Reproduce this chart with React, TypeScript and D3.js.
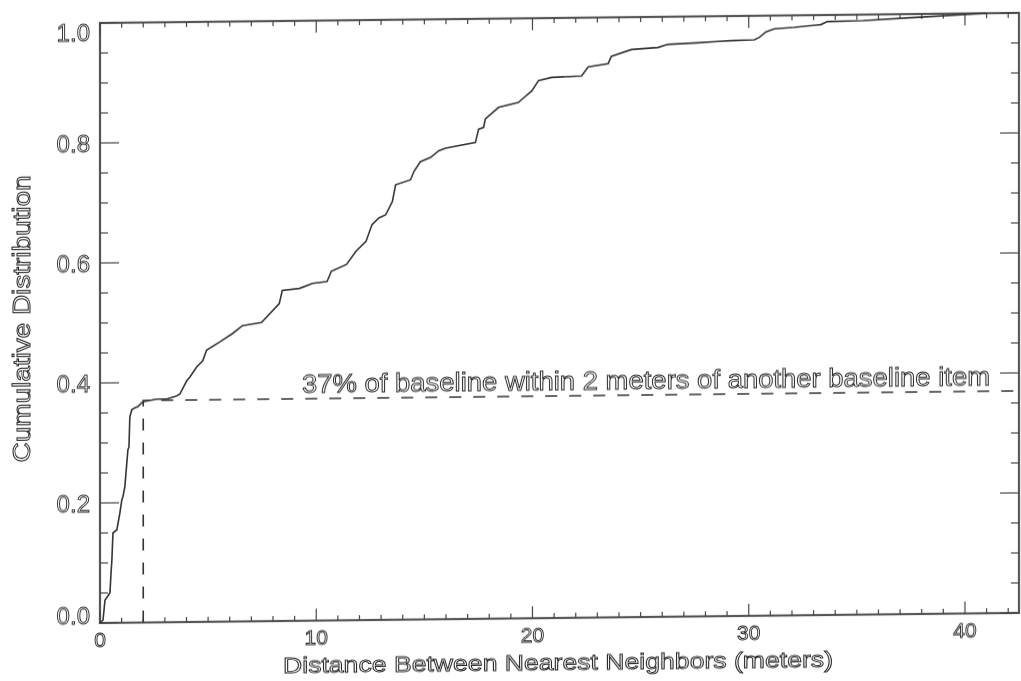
import React from "react";
import * as d3 from "d3";

// CDF of nearest-neighbour distances (meters, cumulative fraction)
const distMeters = [
  0, 0.14, 0.23, 0.46, 0.51, 0.55, 0.6, 0.78, 0.92, 1.01, 1.06, 1.15, 1.29, 1.34, 1.38, 1.47,
  1.61, 1.75, 1.98, 2.63, 3.09, 3.55, 3.69, 4.01, 4.15, 4.47, 4.75, 4.93, 5.53, 6.13, 6.59,
  7.47, 8.29, 8.43, 9.22, 9.82, 10.5, 10.7, 11.4, 11.84, 12.3, 12.58, 12.9, 13.21, 13.52,
  13.67, 14.36, 14.52, 14.82, 15.29, 15.67, 15.98, 17.36, 17.51, 17.74, 17.82, 18.43, 19.35,
  19.51, 19.97, 20.28, 20.89, 22.27, 22.58, 23.5, 23.65, 24.58, 25.8, 26.27, 27.65, 28.57,
  29.17, 30.26, 30.49, 30.8, 31.18, 32.1, 32.72, 33.33, 33.64, 35.3, 37.5, 41.0,
];
const cumFraction = [
  0, 0.005, 0.038, 0.05, 0.083, 0.105, 0.15, 0.155, 0.183, 0.205, 0.21, 0.227, 0.288, 0.293,
  0.343, 0.355, 0.358, 0.36, 0.368, 0.372, 0.372, 0.377, 0.38, 0.402, 0.408, 0.425, 0.435,
  0.453, 0.466, 0.48, 0.493, 0.498, 0.529, 0.551, 0.554, 0.562, 0.565, 0.582, 0.593, 0.615,
  0.631, 0.659, 0.67, 0.675, 0.697, 0.725, 0.733, 0.747, 0.763, 0.77, 0.781, 0.785, 0.794,
  0.816, 0.819, 0.833, 0.852, 0.86, 0.865, 0.879, 0.896, 0.901, 0.903, 0.918, 0.923, 0.935,
  0.946, 0.949, 0.954, 0.956, 0.958, 0.959, 0.96, 0.964, 0.973, 0.978, 0.98, 0.982, 0.984,
  0.989, 0.99, 0.994, 1.0,
];

const xTickLabels = [0, 10, 20, 30, 40];
const yTickLabels = [0, 0.2, 0.4, 0.6, 0.8, 1.0];
const thresholdDist = 2;
const thresholdFrac = 0.37;
const annotation = "37% of baseline within 2 meters of another baseline item";
const xTitle = "Distance Between Nearest Neighbors (meters)";
const yTitle = "Cumulative Distribution";

const FONT = "'Liberation Sans', Arial, Helvetica, sans-serif";

export default function App() {
  const x = d3.scaleLinear().domain([0, 42.5]).range([100, 1019]);
  const y = d3.scaleLinear().domain([0, 1]).range([623, 23]);
  const data = distMeters.map((d, i) => [d, cumFraction[i]] as [number, number]);
  const line = d3
    .line<[number, number]>()
    .x((d) => x(d[0]))
    .y((d) => y(d[1]));

  const xMinor = d3.range(0, 42.5, 1);
  const yMinor = d3.range(0, 1.0001, 0.05);
  const [x0, x1] = x.range();
  const [y0, y1] = y.range();

  const textStyle = {
    fontFamily: FONT,
    fill: "white",
    stroke: "#222",
    strokeWidth: 0.9,
  } as React.CSSProperties;

  return (
    <svg
      width={1021}
      height={681}
      style={{ position: "absolute", left: 0, top: 0, background: "white" }}
    >
      <g transform="translate(0,1.1) skewY(-0.63)" style={{ opacity: 0.999, willChange: "transform" }}>
        {/* frame */}
        <rect x={x0} y={y1} width={x1 - x0} height={y0 - y1} fill="none" stroke="#555" strokeWidth={2.2} />
        {/* x ticks bottom & top */}
        {xMinor.map((v) => {
          const major = v % 10 === 0;
          const len = major ? 12 : 5;
          return (
            <g key={"xt" + v} stroke="#444" strokeWidth={1.2}>
              <line x1={x(v)} x2={x(v)} y1={y0} y2={y0 - len} />
              <line x1={x(v)} x2={x(v)} y1={y1} y2={y1 + len} />
            </g>
          );
        })}
        {/* y ticks left & right */}
        {yMinor.map((v, i) => {
          const major = i % 4 === 0;
          const len = major ? 19 : 8;
          return (
            <g key={"yt" + i} stroke="#444" strokeWidth={1.2}>
              <line x1={x0} x2={x0 + len} y1={y(v)} y2={y(v)} />
              <line x1={x1} x2={x1 - len} y1={y(v)} y2={y(v)} />
            </g>
          );
        })}
        {/* threshold dashed lines */}
        <path
          d={`M${x(thresholdDist)},${y(0)} L${x(thresholdDist)},${y(thresholdFrac)} L${x1},${y(thresholdFrac)}`}
          fill="none"
          stroke="#333"
          strokeWidth={1.6}
          strokeDasharray="12,12"
        />
        {/* CDF curve */}
        <path d={line(data) || ""} fill="none" stroke="#333" strokeWidth={1.6} />
        {/* y tick labels */}
        {yTickLabels.map((v) => {
          const cy = Math.min(Math.max(y(v), 32), 615);
          return (
            <text key={"yl" + v} x={90} y={cy} dy="0.36em" textAnchor="end" fontSize={24} style={textStyle}>
              {v.toFixed(1)}
            </text>
          );
        })}
        {/* x tick labels */}
        {xTickLabels.map((v) => (
          <text key={"xl" + v} x={x(v)} y={647} textAnchor="middle" fontSize={21} style={textStyle}>
            {String(v)}
          </text>
        ))}
        {/* titles */}
        <text x={558} y={675} textAnchor="middle" fontSize={22} textLength={550} lengthAdjust="spacingAndGlyphs" style={textStyle}>
          {xTitle}
        </text>
        <text
          transform="translate(30,318) rotate(-90)"
          textAnchor="middle"
          fontSize={23}
          textLength={287}
          lengthAdjust="spacingAndGlyphs"
          style={textStyle}
        >
          {yTitle}
        </text>
        {/* annotation */}
        <text x={302} y={395} fontSize={25} textLength={688} lengthAdjust="spacingAndGlyphs" style={textStyle}>
          {annotation}
        </text>
      </g>
    </svg>
  );
}
